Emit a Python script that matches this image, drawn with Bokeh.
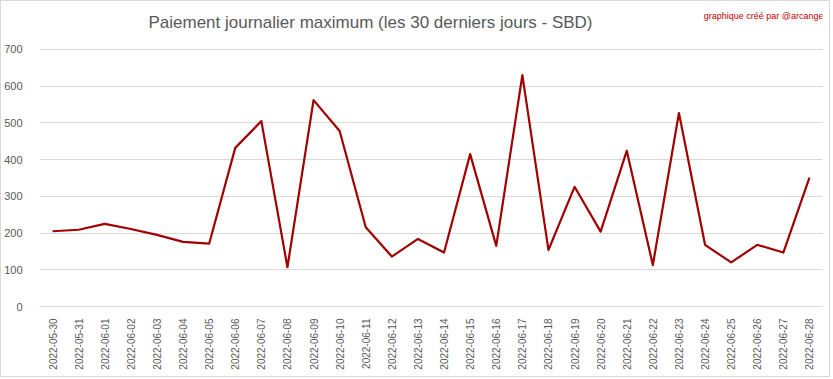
from math import pi
from bokeh.plotting import figure
from bokeh.models import FactorRange, Range1d, FixedTicker, Label
from bokeh.embed import file_html
from bokeh.resources import INLINE

dates = ["2022-05-30", "2022-05-31", "2022-06-01", "2022-06-02", "2022-06-03",
         "2022-06-04", "2022-06-05", "2022-06-06", "2022-06-07", "2022-06-08",
         "2022-06-09", "2022-06-10", "2022-06-11", "2022-06-12", "2022-06-13",
         "2022-06-14", "2022-06-15", "2022-06-16", "2022-06-17", "2022-06-18",
         "2022-06-19", "2022-06-20", "2022-06-21", "2022-06-22", "2022-06-23",
         "2022-06-24", "2022-06-25", "2022-06-26", "2022-06-27", "2022-06-28"]
max_payout = [205, 209, 225, 211, 195, 176, 171, 432, 505, 107,
              562, 478, 216, 136, 184, 147, 415, 165, 630, 154,
              326, 204, 424, 113, 527, 168, 120, 168, 147, 351]
y_ticks = [0, 100, 200, 300, 400, 500, 600, 700]
title_text = "Paiement journalier maximum (les 30 derniers jours - SBD)"
credit_text = "graphique créé par @arcange"

FONT = "Liberation Sans"

# frame reaches the top of the chart so that the title texts sit inside it;
# gridlines/ticks are only drawn at 0..700
p = figure(width=830, height=377, x_range=FactorRange(*dates, range_padding=0),
           y_range=Range1d(0, 830.7), output_backend="svg", toolbar_location=None,
           min_border_left=38, min_border_right=9, min_border_top=0,
           min_border_bottom=72)
p.styles = {"border": "1px solid #D9D9D9"}
p.outline_line_color = None
p.background_fill_color = "white"
p.border_fill_color = "white"

p.line(x=dates, y=max_payout, line_color="#A00000", line_width=2.2,
       line_join="round")

p.yaxis.ticker = FixedTicker(ticks=y_ticks)
p.yaxis.axis_line_color = None
p.yaxis.major_tick_line_color = None
p.yaxis.minor_tick_line_color = None
p.yaxis.major_label_standoff = 11
p.yaxis.major_label_text_font = FONT
p.yaxis.major_label_text_font_size = "11px"
p.yaxis.major_label_text_color = "#595959"

p.xaxis.axis_line_color = "#D9D9D9"
p.xaxis.major_tick_line_color = None
p.xaxis.minor_tick_line_color = None
p.xaxis.major_label_orientation = pi / 2
p.xaxis.major_label_standoff = 6
p.xaxis.major_label_text_font = FONT
p.xaxis.major_label_text_font_size = "10px"
p.xaxis.major_label_text_color = "#595959"

p.xgrid.grid_line_color = None
p.ygrid.grid_line_color = "#D9D9D9"
p.ygrid.grid_line_width = 1

p.add_layout(Label(x=331, y=284, x_units="screen", y_units="screen",
                   text=title_text, text_align="center", text_baseline="middle",
                   text_font=FONT, text_font_size="17px", text_color="#595959"))
p.add_layout(Label(x=784, y=291, x_units="screen", y_units="screen",
                   text=credit_text, text_align="right", text_baseline="middle",
                   text_font=FONT, text_font_size="9px", text_color="#C00000"))

open("out.html", "w").write(file_html(p, INLINE))
